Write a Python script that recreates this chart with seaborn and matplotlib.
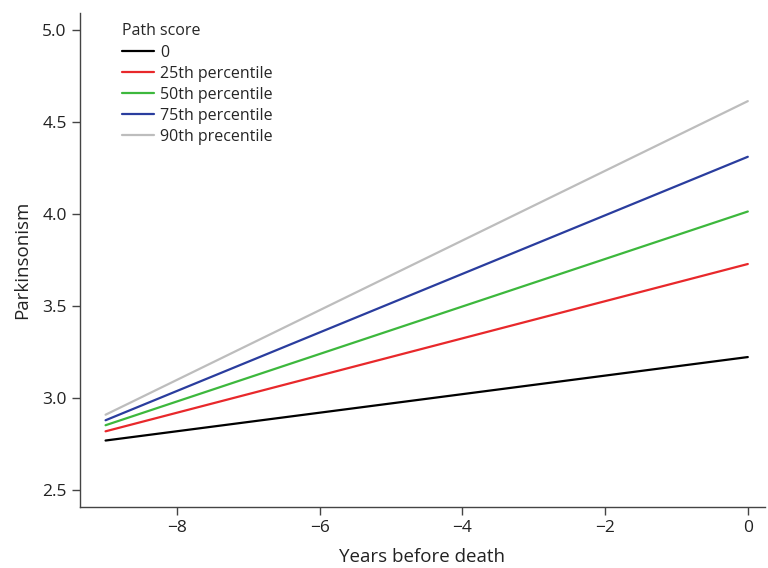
import matplotlib
matplotlib.use("Agg")
import matplotlib.pyplot as plt
import seaborn as sns
import pandas as pd

years = [-9, 0]
groups = ["0", "25th percentile", "50th percentile", "75th percentile", "90th precentile"]
start_vals = [2.77, 2.82, 2.853, 2.88, 2.91]
end_vals = [3.223, 3.728, 4.013, 4.31, 4.612]
colors = ["#000000", "#e8282b", "#3db83d", "#2a3d9e", "#bdbdbd"]

rows = []
for g, s, e in zip(groups, start_vals, end_vals):
    rows.append({"year": years[0], "value": s, "group": g})
    rows.append({"year": years[1], "value": e, "group": g})
df = pd.DataFrame(rows)

sns.set_style("white")
plt.rcParams["font.family"] = ["Open Sans", "DejaVu Sans"]

fig = plt.figure(figsize=(7.68, 5.68), dpi=100)
ax = fig.add_axes([0.104, 0.107, 0.892, 0.870])

sns.lineplot(data=df, x="year", y="value", hue="group", hue_order=groups,
             palette=colors, linewidth=1.6, ax=ax)

ax.set_xlim(-9.36, 0.24)
ax.set_ylim(2.408, 5.09)
ax.set_xticks([-8, -6, -4, -2, 0])
ax.set_yticks([2.5, 3.0, 3.5, 4.0, 4.5, 5.0])
ax.set_xticklabels(["\u22128", "\u22126", "\u22124", "\u22122", "0"])
ax.set_yticklabels(["2.5", "3.0", "3.5", "4.0", "4.5", "5.0"])
ax.tick_params(axis="both", direction="out", length=6, width=1, colors="#444444",
               labelsize=12.5, labelcolor="#222222")
ax.tick_params(bottom=True, left=True)
ax.set_xlabel("Years before death", fontsize=13.5, color="#222222", labelpad=8)
ax.set_ylabel("Parkinsonism", fontsize=13.5, color="#222222", labelpad=8)

for side in ["top", "right"]:
    ax.spines[side].set_visible(False)
for side in ["left", "bottom"]:
    ax.spines[side].set_color("#444444")
    ax.spines[side].set_linewidth(1)

leg = ax.legend(title="Path score", loc="upper left", bbox_to_anchor=(0.04, 1.008),
                frameon=False, fontsize=11.5, title_fontsize=11.5,
                handlelength=2.0, handletextpad=0.4, labelspacing=0.32)
leg._legend_box.align = "left"

fig.savefig("out.png", dpi=100)
